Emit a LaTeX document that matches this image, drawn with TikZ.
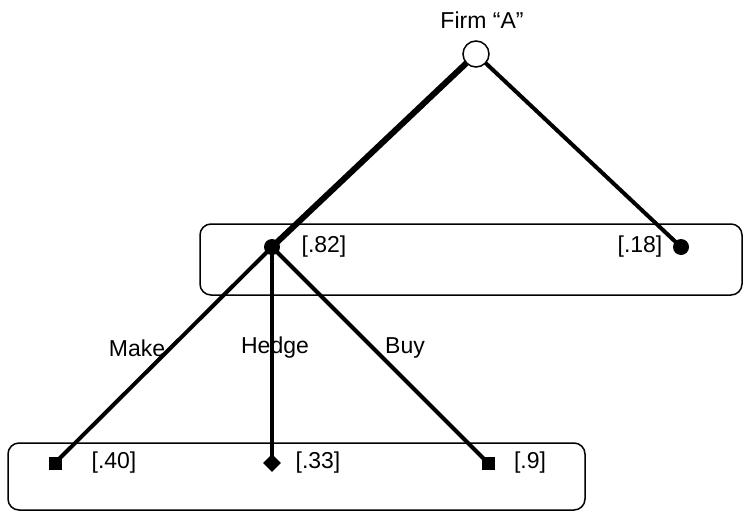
\documentclass[tikz,border=0pt]{standalone}
\usepackage{fontspec}
\setmainfont{Liberation Sans}
\usetikzlibrary{shapes.geometric}
\begin{document}
\begin{tikzpicture}[x=1pt,y=-1pt,
  lbl/.style={font=\fontsize{23}{27}\selectfont, inner sep=0pt},
  grp/.style={draw, line width=1.5pt, rounded corners=11pt},
  edge/.style={line width=4pt},
  thickedge/.style={line width=6pt},
  dotnode/.style={circle, fill=black, minimum size=16pt, inner sep=0pt},
  sqnode/.style={rectangle, fill=black, minimum size=13pt, inner sep=0pt},
  dianode/.style={diamond, fill=black, minimum size=18pt, inner sep=0pt},
  rootnode/.style={circle, draw, fill=white, line width=1.5pt, minimum size=26pt, inner sep=0pt}]
\useasboundingbox (0,0) rectangle (744,511);
% group boxes
\draw[grp] (200,224) rectangle (742,295);
\draw[grp] (8,443) rectangle (585,510);
% node positions
\coordinate (rootc) at (476,54);
\coordinate (midc) at (272,247);
\coordinate (rightc) at (681,247);
\coordinate (makec) at (55,463);
\coordinate (hedgec) at (272,463);
\coordinate (buyc) at (488,463);
% connectors
\draw[thickedge] (rootc) -- (midc);
\draw[edge] (rootc) -- (rightc);
\draw[edge] (midc) -- (makec);
\draw[edge] (midc) -- (hedgec);
\draw[edge] (midc) -- (buyc);
% markers
\node[rootnode] (root) at (rootc) {};
\node[dotnode] (mid) at (midc) {};
\node[dotnode] (right) at (rightc) {};
\node[sqnode] (make) at (makec) {};
\node[dianode] (hedge) at (hedgec) {};
\node[sqnode] (buy) at (buyc) {};
% labels
\node[lbl] (firm) at (482,20) {Firm “A”};
\node[lbl] (p82) at (324,247) {[.82]};
\node[lbl] (p18) at (640,247) {[.18]};
\node[lbl] (p40) at (114,463) {[.40]};
\node[lbl] (p33) at (318,463) {[.33]};
\node[lbl] (p9) at (530,463) {[.9]};
\node[lbl] (lmake) at (137,348) {Make};
\node[lbl] (lhedge) at (275,348) {Hedge};
\node[lbl] (lbuy) at (405,348) {Buy};
\end{tikzpicture}
\end{document}
